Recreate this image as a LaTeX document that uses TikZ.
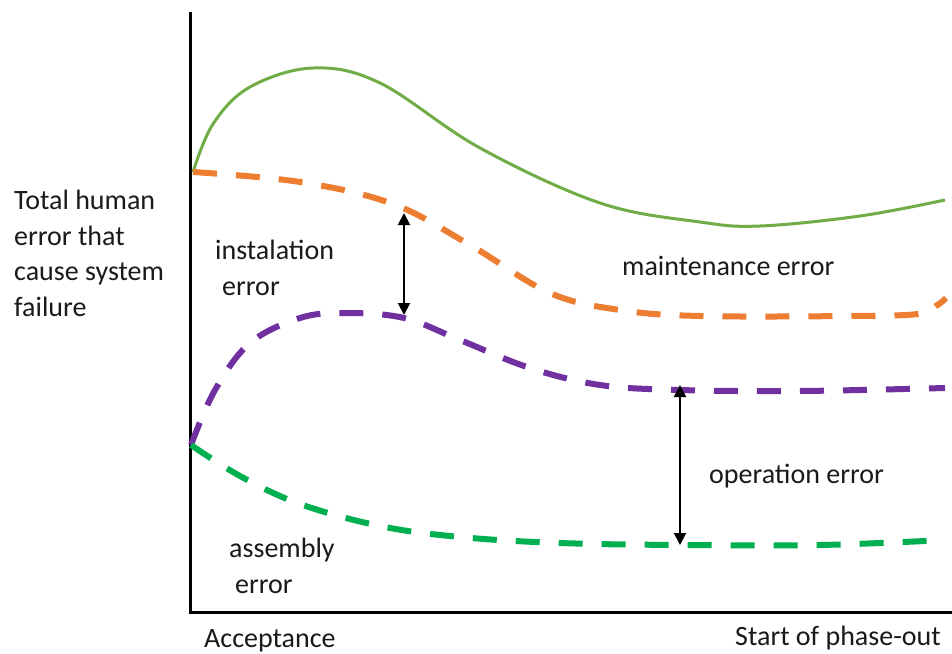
\documentclass[tikz,border=0pt]{standalone}
\usepackage{fontspec}
\setmainfont{Carlito}
\usetikzlibrary{arrows.meta}
\definecolor{totalgreen}{HTML}{70AD47}
\definecolor{maintorange}{HTML}{ED7D31}
\definecolor{operpurple}{HTML}{7030A0}
\definecolor{assemgreen}{HTML}{00B050}
\definecolor{labeltext}{HTML}{1A1A1A}
\begin{document}
\begin{tikzpicture}[x=1pt,y=-1pt,
  lbl/.style={anchor=base west,inner sep=0pt,text=labeltext,font=\fontsize{28}{35}\selectfont},
  axisline/.style={line width=3pt,black},
  errcurve/.style={line width=6pt,dash pattern=on 24pt off 19pt},
  gap/.style={line width=2pt,black,{Triangle[length=12pt,width=12pt]}-{Triangle[length=12pt,width=12pt]}}]
\useasboundingbox (0,0) rectangle (952,653);
\fill[white] (0,0) rectangle (952,653);

% axes
\coordinate (ytop) at (190,12);
\coordinate (origin) at (190,612);
\coordinate (xend) at (952,612);
\draw[axisline] (ytop) -- (origin) -- (xend);

% total human error
\draw[totalgreen,line width=3pt] plot[smooth,tension=0.6] coordinates
  {(193,172) (213,124) (250,87) (313,68) (380,83) (480,148) (600,203) (700,222) (760,226) (860,216) (945,200)};

% maintenance error boundary
\draw[maintorange,errcurve] plot[smooth,tension=0.6] coordinates
  {(193,172) (300,182) (393,204) (470,245) (550,293) (620,310) (700,316) (850,316) (918,314) (936,306) (946,298)};

% operation error boundary
\draw[operpurple,errcurve] plot[smooth,tension=0.6] coordinates
  {(191,445) (215,390) (250,343) (300,318) (345,313) (404,318) (460,340) (530,368) (600,385) (680,390) (800,391) (945,388)};

% assembly error boundary
\draw[assemgreen,errcurve] plot[smooth,tension=0.6] coordinates
  {(191,445) (240,476) (300,504) (380,526) (460,537) (560,543) (680,545) (820,545) (945,540)};

% gap arrows
\coordinate (a1top) at (404,213);
\coordinate (a1bot) at (404,315);
\coordinate (a2top) at (680,385);
\coordinate (a2bot) at (680,545);
\draw[gap] (a1top) -- (a1bot);
\draw[gap] (a2top) -- (a2bot);

% labels
\node[lbl] (yl1) at (14,209) {Total human};
\node[lbl] (yl2) at (14,245) {error that};
\node[lbl] (yl3) at (14,280) {cause system};
\node[lbl] (yl4) at (14,316) {failure};
\node[lbl] (inst1) at (215,259) {instalation};
\node[lbl] (inst2) at (222,295) {error};
\node[lbl] (maint) at (622,275) {maintenance error};
\node[lbl] (oper) at (709,483) {operation error};
\node[lbl] (asm1) at (229,557) {assembly};
\node[lbl] (asm2) at (235,593) {error};
\node[lbl] (accept) at (204,647) {Acceptance};
\node[lbl] (phase) at (735,645) {Start of phase-out};
\end{tikzpicture}
\end{document}
